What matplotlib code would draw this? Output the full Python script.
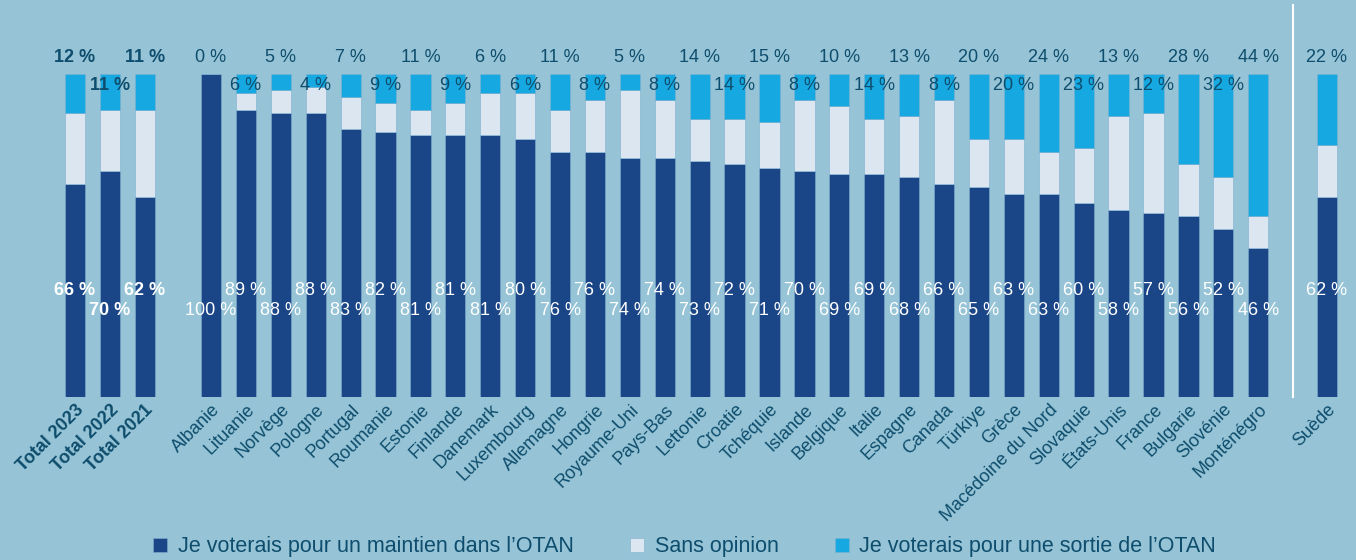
import matplotlib.pyplot as plt
import numpy as np

# data
totals = ["Total 2023", "Total 2022", "Total 2021"]
totals_maintien = [66, 70, 62]
totals_sortie = [12, 11, 11]

countries = ["Albanie", "Lituanie", "Norvège", "Pologne", "Portugal", "Roumanie",
             "Estonie", "Finlande", "Danemark", "Luxembourg", "Allemagne", "Hongrie",
             "Royaume-Uni", "Pays-Bas", "Lettonie", "Croatie", "Tchéquie", "Islande",
             "Belgique", "Italie", "Espagne", "Canada", "Türkiye", "Grèce",
             "Macédoine du Nord", "Slovaquie", "États-Unis", "France", "Bulgarie",
             "Slovénie", "Monténégro"]
maintien = [100, 89, 88, 88, 83, 82, 81, 81, 81, 80, 76, 76, 74, 74, 73, 72, 71,
            70, 69, 69, 68, 66, 65, 63, 63, 60, 58, 57, 56, 52, 46]
sortie = [0, 6, 5, 4, 7, 9, 11, 9, 6, 6, 11, 8, 5, 8, 14, 14, 15, 8, 10, 14, 13,
          8, 20, 20, 24, 23, 13, 12, 28, 32, 44]

new_member = "Suède"
new_maintien = 62
new_sortie = 22

BG = "#96C4D6"
DARK = "#1A4587"
LIGHT = "#DCE6F0"
CYAN = "#16A9E1"
TXT = "#0E4D6D"

labels = totals + countries + [new_member]
m = np.array(totals_maintien + maintien + [new_maintien])
s = np.array(totals_sortie + sortie + [new_sortie])
o = 100 - m - s
bold = [True] * len(totals) + [False] * (len(countries) + 1)

x = np.concatenate([np.arange(len(totals)),
                    np.arange(len(countries)) + 3.9,
                    [len(countries) + 4.87]])

plt.rcParams['font.family'] = ['Liberation Sans', 'DejaVu Sans']
fig = plt.figure(figsize=(13.56, 5.6), dpi=100, facecolor=BG)
ax = fig.add_axes([40 / 1356, 163 / 560, 1310 / 1356, 323 / 560])
ax.set_facecolor(BG)

w = 0.58
ax.bar(x, m, w, color=DARK, edgecolor="#7FAFD0", linewidth=0.4,
       label="Je voterais pour un maintien dans l’OTAN")
ax.bar(x, o, w, bottom=m, color=LIGHT, edgecolor="#7FAFD0", linewidth=0.4,
       label="Sans opinion")
ax.bar(x, s, w, bottom=m + o, color=CYAN, edgecolor="#7FAFD0", linewidth=0.4,
       label="Je voterais pour une sortie de l’OTAN")

ax.set_xlim(-1.0, 36.53)
ax.set_ylim(0, 100)

n = len(labels)
for i in range(n):
    if i < 3:
        hi_top = i % 2 == 0
        hi_mid = i % 2 == 0
    elif i == n - 1:
        hi_top = True
        hi_mid = True
    else:
        k = i - 3
        hi_top = k % 2 == 0
        hi_mid = k % 2 == 1
    fw = "bold" if bold[i] else "normal"
    ax.text(x[i], 105.0 if hi_top else 96.4, f"{s[i]} %", ha="center", va="center",
            fontsize=13, color=TXT, fontweight=fw, clip_on=False)
    ax.text(x[i], 33.1 if hi_mid else 26.9, f"{m[i]} %", ha="center", va="center",
            fontsize=13, color="white", fontweight=fw)

ax.set_xticks(x)
ax.set_xticklabels(labels, rotation=45, ha="right", rotation_mode="anchor",
                   fontsize=13, color=TXT)
for lab, b in zip(ax.get_xticklabels(), bold):
    if b:
        lab.set_fontweight("bold")
ax.tick_params(axis="x", length=0, pad=3)
ax.set_yticks([])
for sp in ax.spines.values():
    sp.set_visible(False)

# separator before new member
sep = (x[-2] + x[-1]) / 2
ax.plot([sep, sep], [0, 121.4], color="white", lw=1.5, clip_on=False)

leg = fig.legend(loc="lower center", bbox_to_anchor=(0.505, -0.03), ncol=3, frameon=False,
                 fontsize=15.5, handlelength=0.65, handleheight=0.65, columnspacing=2.6,
                 handletextpad=0.5)
for t in leg.get_texts():
    t.set_color(TXT)

fig.savefig("out.png", dpi=100, facecolor=BG)
